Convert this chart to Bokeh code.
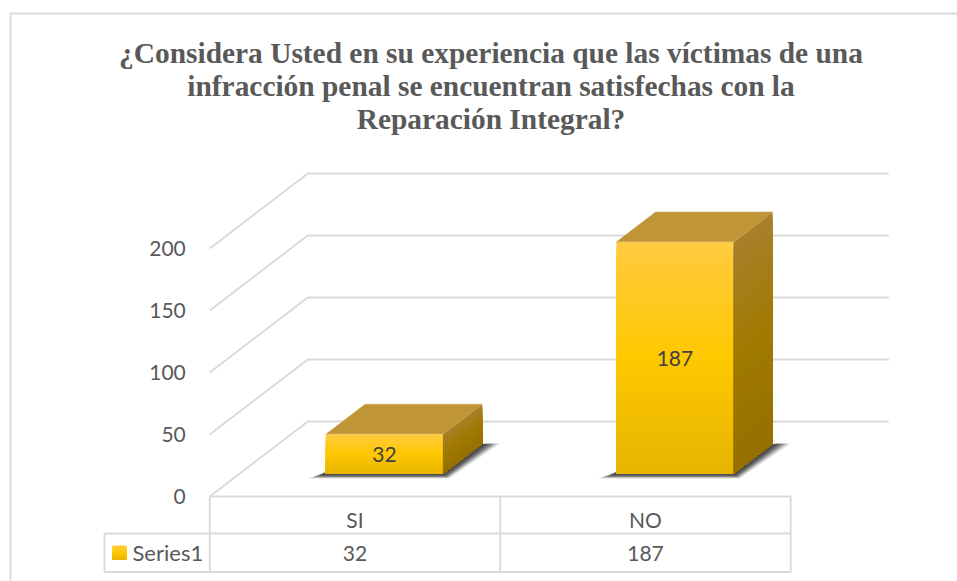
from bokeh.plotting import figure
from bokeh.embed import file_html
from bokeh.resources import INLINE
from bokeh.models import FixedTicker, Range1d
from bokeh.core.properties import value

title_lines = ["¿Considera Usted en su experiencia que las víctimas de una",
               "infracción penal se encuentran satisfechas con la",
               "Reparación Integral?"]
categories = ["SI", "NO"]
values = [32, 187]
series_name = "Series1"
y_ticks = [0, 50, 100, 150, 200]

GRID = "#D9D9D9"
TXT = "#595959"
SANS = "Lato"
FS = "21px"
PX_X = 290.5
PX_Y = 1.24
WALL_DX = 98 / PX_X
WALL_DY = 75 / PX_Y
BAR_HALF = 58.5 / PX_X
FRONT = 0.30
DEPTH = 0.40
W, H = 957, 581


def X(px):
    return (px - 354.5) / PX_X


def Y(py):
    return (496 - py) / PX_Y


def mix(stops, t):
    for (t0, c0), (t1, c1) in zip(stops, stops[1:]):
        if t <= t1:
            f = (t - t0) / (t1 - t0)
            return "#%02x%02x%02x" % tuple(round(a + (b - a) * f) for a, b in zip(c0, c1))
    return "#%02x%02x%02x" % stops[-1][1]


FRONT_STOPS = [(0, (230, 180, 0)), (0.5, (255, 200, 0)), (1, (255, 203, 64))]
SIDE_STOPS = [(0, (149, 112, 0)), (0.5, (160, 122, 0)), (1, (168, 128, 44))]

p = figure(width=W, height=H, output_backend="svg", toolbar_location=None,
           x_range=Range1d(X(0), X(W)),
           y_range=Range1d(Y(H), Y(0)),
           min_border_left=0, min_border_right=0, min_border_bottom=0, min_border_top=0)
p.grid.visible = False
p.outline_line_color = None
p.background_fill_color = "white"
p.border_fill_color = "white"

# chart border
p.line([X(W), X(10), X(10)], [Y(13), Y(13), Y(H)], line_color=GRID, line_width=1.8)

# title
for t_line, py in zip(title_lines, [52, 85, 118]):
    p.text([X(490.5)], [Y(py)], text=[t_line], text_align="center", text_baseline="middle",
           text_font=value("Liberation Serif"), text_font_style="bold",
           text_font_size="29.4px", text_color=TXT)

# axes
xa = p.xaxis[0]
xa.fixed_location = 0
xa.ticker = FixedTicker(ticks=list(range(len(categories))))
xa.major_label_overrides = {i: c for i, c in enumerate(categories)}
xa.bounds = (-0.5, len(categories) - 0.5)
xa.axis_line_color = GRID
xa.axis_line_width = 1.8
xa.major_tick_line_color = None
xa.minor_tick_line_color = None
xa.major_label_standoff = 4
xa.major_label_text_font = SANS
xa.major_label_text_font_size = FS
xa.major_label_text_color = TXT

ya = p.yaxis[0]
ya.fixed_location = -0.5
ya.ticker = FixedTicker(ticks=y_ticks)
ya.axis_line_color = None
ya.major_tick_line_color = None
ya.minor_tick_line_color = None
ya.major_label_standoff = 18
ya.major_label_text_font = SANS
ya.major_label_text_font_size = FS
ya.major_label_text_color = TXT

# walls
left = -0.5
right_back = len(categories) - 0.5 + WALL_DX
for v in y_ticks:
    p.line([left, left + WALL_DX, right_back], [v, v + WALL_DY, v + WALL_DY],
           line_color=GRID, line_width=1.8)

# table
n = len(categories)
row1 = Y(533)
row2 = Y(571.5)
key_left = X(104)
for xs, ys in [([key_left, n - 0.5], [row1, row1]),
               ([key_left, n - 0.5], [row2, row2]),
               ([key_left, key_left], [row1, row2])] + \
              [([left + i, left + i], [0, row2]) for i in range(n + 1)]:
    p.line(xs, ys, line_color=GRID, line_width=1.8)
for i, v in enumerate(values):
    p.text([i], [Y(553)], text=[str(v)], text_align="center", text_baseline="middle",
           text_font=value(SANS), text_font_size=FS, text_color=TXT)
p.text([X(132)], [Y(552)], text=[series_name], text_align="left", text_baseline="middle",
       text_font=value(SANS), text_font_size="22px", text_color=TXT)

# legend key
N_KEY = 14
for k in range(N_KEY - 1, -1, -1):
    col = mix(FRONT_STOPS, (k + 0.5) / N_KEY)
    p.quad(left=X(112), right=X(126), bottom=Y(559), top=Y(559 - 14 * (k + 1) / N_KEY),
           fill_color=col, line_color=None)

# bars
dx0 = FRONT * WALL_DX
dy0 = FRONT * WALL_DY
dx = DEPTH * WALL_DX
dy = DEPTH * WALL_DY
BANDS = 48
for i, v in enumerate(values):
    xl = i - BAR_HALF + dx0
    xr = i + BAR_HALF + dx0
    yf = dy0
    yb = dy0 + dy
    # soft shadow
    for t, alpha in [(1.0, 0.14), (0.85, 0.2), (0.7, 0.28), (0.55, 0.38), (0.35, 0.5)]:
        p.patch([xl - t * 18 / PX_X, xr + 6 * t / PX_X, xr + dx + t * 18 / PX_X, xr + dx, xl],
                [yf - t * 4.5 / PX_Y, yf - t * 4.5 / PX_Y, yb + 0.5 / PX_Y, yb, yf + 2 / PX_Y],
                fill_color="#303030", fill_alpha=alpha, line_color=None)
    # gradient faces, painted from the top band down so that no seams show
    for k in range(BANDS - 1, -1, -1):
        v1 = v * (k + 1) / BANDS
        t = (k + 0.5) / BANDS
        p.quad(left=xl, right=xr, bottom=yf, top=yf + v1,
               fill_color=mix(FRONT_STOPS, t), line_color=None)
        p.patch([xr, xr + dx, xr + dx, xr], [yf, yb, yb + v1, yf + v1],
                fill_color=mix(SIDE_STOPS, t), line_color=None)
    p.patch([xl, xr, xr + dx, xl + dx], [yf + v, yf + v, yb + v, yb + v],
            fill_color="#C09536", line_color="#C9A04A", line_width=0.6)
    p.line([xl, xr], [yf + v, yf + v], line_color="#F3D06A", line_width=1)
    p.text([(xl + xr) / 2], [yf + v / 2], text=[str(v)], text_align="center", text_baseline="middle",
           text_font=value(SANS), text_font_size=FS, text_color="#404040")

open("out.html", "w").write(file_html(p, INLINE))
